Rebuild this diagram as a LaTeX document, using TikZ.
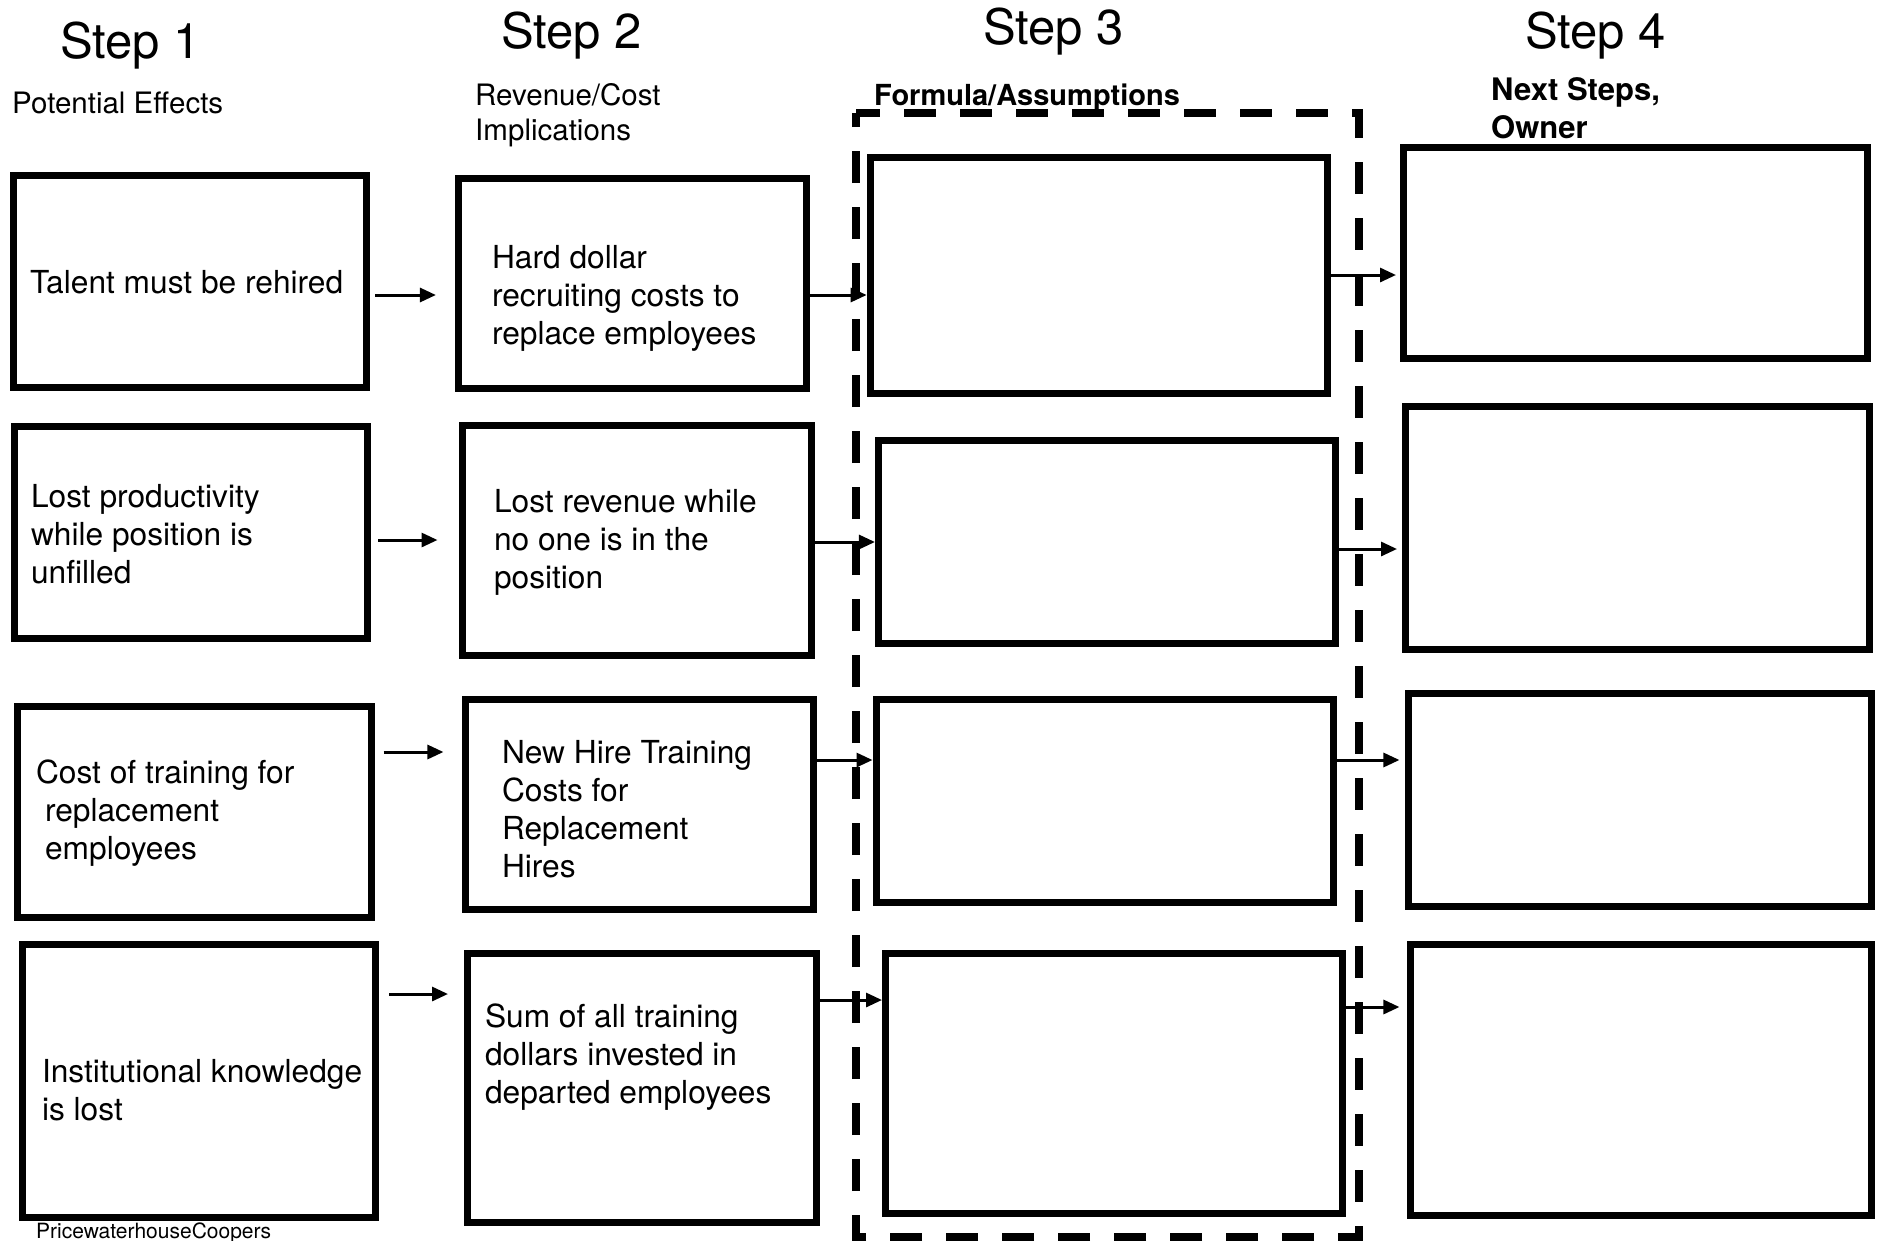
\documentclass[tikz,border=0pt]{standalone}
\usepackage{fontspec}
\setmainfont{TeX Gyre Heros}
\usetikzlibrary{arrows.meta}
\tikzset{
  box/.style={draw, rectangle, line width=7pt, inner sep=0pt, outer sep=3.5pt},
  arr/.style={line width=3pt, -{Triangle[length=16pt,width=14pt]}},
  dashframe/.style={line width=7.5pt, dash pattern=on 32pt off 24pt, dash phase=8pt},
  txt/.style={anchor=base west, inner sep=0pt, outer sep=0pt, font=\fontsize{31.7}{38}\selectfont},
  steptitle/.style={anchor=base west, inner sep=0pt, font=\fontsize{49}{58}\selectfont},
  subhead/.style={anchor=base west, inner sep=0pt, font=\fontsize{29.5}{35}\selectfont},
  boldhead/.style={anchor=base west, inner sep=0pt, font=\bfseries\fontsize{29}{35}\selectfont},
  nexthead/.style={anchor=base west, inner sep=0pt, font=\bfseries\fontsize{31}{38}\selectfont},
  credit/.style={anchor=base west, inner sep=0pt, font=\fontsize{21}{25}\selectfont},
}
\newcommand{\lns}[1]{\begin{tabular}[t]{@{}l@{}}#1\end{tabular}}
\begin{document}
\begin{tikzpicture}[x=1pt, y=-1pt]
\fill[white] (0,0) rectangle (1877,1240);
\useasboundingbox (0,0) rectangle (1877,1240);

% headings
\node[steptitle] (s1) at (60,58) {Step 1};
\node[steptitle] (s2) at (501,48) {Step 2};
\node[steptitle] (s3) at (983,44) {Step 3};
\node[steptitle] (s4) at (1525,48) {Step 4};
\node[subhead] (h1) at (12,113) {Potential Effects};
\node[subhead] (h2) at (475,105) {\lns{Revenue/Cost\\Implications}};
\node[boldhead] (h3) at (874,105) {Formula/Assumptions};
\node[nexthead] (h4) at (1491,100) {\lns{Next Steps,\\Owner}};

% dashed frame around step 3
\draw[dashframe] (856,113) -- (1359,113) -- (1359,1237) -- (856,1237) -- cycle;

% column 1
\node[box, minimum width=353.4pt, minimum height=211.6pt] (b1) at (189.8,281.7) {};
\node[box, minimum width=353.3pt, minimum height=212pt]   (b2) at (191,532.1) {};
\node[box, minimum width=353.3pt, minimum height=210.9pt] (b3) at (194.5,811.6) {};
\node[box, minimum width=353.3pt, minimum height=273.1pt] (b4) at (199.3,1081) {};
% column 2
\node[box, minimum width=347.6pt, minimum height=210pt] (c1) at (632.2,283.5) {};
\node[box, minimum width=349pt,   minimum height=230pt] (c2) at (636.5,540.5) {};
\node[box, minimum width=347.5pt, minimum height=210pt] (c3) at (639.7,804.5) {};
\node[box, minimum width=349pt,   minimum height=269pt] (c4) at (642,1088) {};
% column 3
\node[box, minimum width=457.3pt, minimum height=236pt]   (d1) at (1098.8,275.5) {};
\node[box, minimum width=457.5pt, minimum height=203.5pt] (d2) at (1107.2,542.2) {};
\node[box, minimum width=457pt,   minimum height=203.5pt] (d3) at (1104.5,801.2) {};
\node[box, minimum width=457pt,   minimum height=260pt]   (d4) at (1114,1083.5) {};
% column 4
\node[box, minimum width=464pt,   minimum height=211.5pt] (e1) at (1635.5,253.2) {};
\node[box, minimum width=464pt,   minimum height=243.5pt] (e2) at (1637.5,528.2) {};
\node[box, minimum width=462.5pt, minimum height=212.5pt] (e3) at (1640.2,799.8) {};
\node[box, minimum width=460.5pt, minimum height=271.5pt] (e4) at (1641.2,1080.2) {};

% box texts
\node[txt] (tb1) at (30,293) {Talent must be rehired};
\node[txt] (tb2) at (31,507) {\lns{Lost productivity\\while position is\\unfilled}};
\node[txt] (tb3) at (36,783) {\lns{Cost of training for\\\hspace*{9pt}replacement\\\hspace*{9pt}employees}};
\node[txt] (tb4) at (42,1082) {\lns{Institutional knowledge\\is lost}};
\node[txt] (tc1) at (492,268) {\lns{Hard dollar\\recruiting costs to\\replace employees}};
\node[txt] (tc2) at (494,512) {\lns{Lost revenue while\\no one is in the\\position}};
\node[txt] (tc3) at (502,763) {\lns{New Hire Training\\Costs for\\Replacement\\Hires}};
\node[txt] (tc4) at (485,1027) {\lns{Sum of all training\\dollars invested in\\departed employees}};

\node[credit] (cr) at (36,1238) {PricewaterhouseCoopers};

% arrows step 1 -> step 2
\draw[arr, shorten <=5pt,  shorten >=19pt] (b1.east |- 0,295) -- (c1.west |- 0,295);
\draw[arr, shorten <=7pt,  shorten >=21pt] (b2.east |- 0,540) -- (c2.west |- 0,540);
\draw[arr, shorten <=9pt,  shorten >=19pt] (b3.east |- 0,752) -- (c3.west |- 0,752);
\draw[arr, shorten <=10pt, shorten >=16pt] (b4.east |- 0,994) -- (c4.west |- 0,994);
% arrows step 2 -> step 3
\draw[arr] (c1.east |- 0,295) -- (d1.west |- 0,295);
\draw[arr] (c2.east |- 0,542) -- (d2.west |- 0,542);
\draw[arr] (c3.east |- 0,760) -- (d3.west |- 0,760);
\draw[arr] (c4.east |- 0,1000) -- (d4.west |- 0,1000);
% arrows step 3 -> step 4
\draw[arr, shorten >=4pt] (d1.east |- 0,275) -- (e1.west |- 0,275);
\draw[arr, shorten >=5pt] (d2.east |- 0,549) -- (e2.west |- 0,549);
\draw[arr, shorten >=6pt] (d3.east |- 0,760) -- (e3.west |- 0,760);
\draw[arr, shorten >=8pt] (d4.east |- 0,1007) -- (e4.west |- 0,1007);
\end{tikzpicture}
\end{document}
